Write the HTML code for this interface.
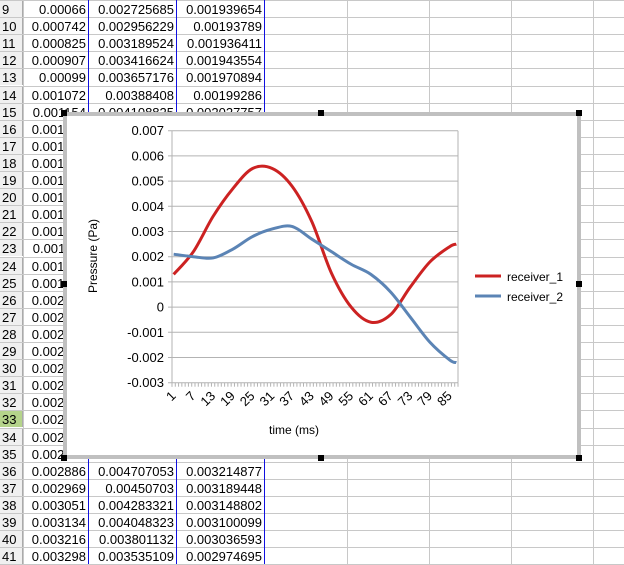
<!DOCTYPE html>
<html><head><meta charset="utf-8"><style>
body{margin:0;width:624px;height:564px;overflow:hidden;background:#fff;font-family:"Liberation Sans",sans-serif;position:relative}
.c{position:absolute;font-size:13px;text-align:right;white-space:nowrap;overflow:hidden;line-height:17px}
.rh{position:absolute;left:0;width:23px;background:#f0f0f0;font-size:13px;line-height:17px;padding-left:2px;box-sizing:border-box;border-right:1px solid #aaa}
.h{position:absolute;background:#000;width:6px;height:6px}
</style></head><body>
<div id="sheet"></div>
<div style="position:absolute;left:63px;top:112px;width:518px;height:347px;box-sizing:border-box;border:4px solid #c0c0c0;background:#fff"></div>
<div class="h" style="left:61px;top:110px"></div><div class="h" style="left:318px;top:110px"></div><div class="h" style="left:576px;top:110px"></div>
<div class="h" style="left:61px;top:281px"></div><div class="h" style="left:576px;top:281px"></div>
<div class="h" style="left:61px;top:455px"></div><div class="h" style="left:318px;top:455px"></div><div class="h" style="left:576px;top:455px"></div>
<svg id="chart" width="624" height="564" style="position:absolute;left:0;top:0" font-family="Liberation Sans, sans-serif"></svg>
<script>
const times=[];for(let i=1;i<=87;i++)times.push(i);
const sampleCats=[1,7,13,19,25,31,37,43,49,55,61,67,73,79,85,87];
const receiver1=[0.0013,0.0022,0.0036,0.0047,0.0055,0.0055,0.0048,0.0034,0.00135,0.0000,-0.0006,-0.0003,0.0008,0.0018,0.0024,0.0025];
const receiver2=[0.0021,0.0020,0.00195,0.0023,0.0028,0.0031,0.0032,0.0027,0.0022,0.0017,0.0013,0.0006,-0.0004,-0.0014,-0.0021,-0.0022];
const yTicks=[0.007,0.006,0.005,0.004,0.003,0.002,0.001,0,-0.001,-0.002,-0.003];
const yTickLabels=["0.007","0.006","0.005","0.004","0.003","0.002","0.001","0","-0.001","-0.002","-0.003"];
const xLabels=[1,7,13,19,25,31,37,43,49,55,61,67,73,79,85];
const colA9=["0.00066","0.000742","0.000825","0.000907","0.00099","0.001072","0.001154"];
const colB9=["0.002725685","0.002956229","0.003189524","0.003416624","0.003657176","0.00388408","0.004108825"];
const colC9=["0.001939654","0.00193789","0.001936411","0.001943554","0.001970894","0.00199286","0.002027757"];
const colA36=["0.002886","0.002969","0.003051","0.003134","0.003216","0.003298"];
const colB36=["0.004707053","0.00450703","0.004283321","0.004048323","0.003801132","0.003535109"];
const colC36=["0.003214877","0.003189448","0.003148802","0.003100099","0.003036593","0.002974695"];

const sh=document.getElementById('sheet');
const rowTop=n=>1+(n-9)*17.1;
const vlines=[23,88,176,264,347,429,511,593];
for(let n=9;n<=42;n++){
  const l=document.createElement('div');l.style.cssText=`position:absolute;left:0;top:${rowTop(n)-1}px;width:624px;height:1px;background:#c8c8c8`;
  
  sh.appendChild(l);
}
vlines.forEach((x,i)=>{const l=document.createElement('div');const blue=(i>=1&&i<=3);
  l.style.cssText=`position:absolute;left:${x}px;top:0;width:1px;height:564px;background:${blue?'#1010e0':'#c8c8c8'}`;
  
  sh.appendChild(l);});
for(let n=9;n<=41;n++){
  const h=document.createElement('div');h.className='rh';h.style.top=rowTop(n)+'px';h.style.height='16px';h.textContent=n;
  if(n===33){h.style.background='#b5d48b';}
  
  sh.appendChild(h);
  let a,b,c;
  if(n<=15){a=colA9[n-9];b=colB9[n-9];c=colC9[n-9];}
  else if(n>=36){a=colA36[n-36];b=colB36[n-36];c=colC36[n-36];}
  else {a=(0.00066+(n-9)*0.0000822).toFixed(6);}
  [[a,25,61],[b,90,84],[c,178,84]].forEach(([t,x,w])=>{if(!t)return;const d=document.createElement('div');d.className='c';
    d.style.cssText+=`left:${x}px;top:${rowTop(n)}px;width:${w}px`;d.textContent=t;
    
    sh.appendChild(d);});
}

const svg=document.getElementById('chart');const NS='http://www.w3.org/2000/svg';
const X0=172,X1=458,Y0=130.7,Y1=382.7,N=times.length;
const xs=c=>X0+(c-0.5)*(X1-X0)/N;
const ys=v=>Y1-(v+0.003)/0.010*(Y1-Y0);
function el(t,a,name){const e=document.createElementNS(NS,t);for(const k in a)e.setAttribute(k,a[k]);
  
  svg.appendChild(e);return e;}
yTicks.forEach((v,i)=>{el('line',{x1:X0-4,x2:X1,y1:ys(v),y2:ys(v),stroke:'#b3b3b3','stroke-width':1},'y-gridline');
  const t=el('text',{x:X0-8,y:ys(v)+4.5,'text-anchor':'end','font-size':13,fill:'#000'},'y-tick-label');t.textContent=yTickLabels[i];});
el('line',{x1:X0,x2:X0,y1:Y0,y2:Y1+4,stroke:'#b3b3b3'},'y-axis');
el('line',{x1:X1,x2:X1,y1:Y0,y2:Y1,stroke:'#b3b3b3'},'plot-right-edge');
for(let i=0;i<=N;i++){const x=X0+i*(X1-X0)/N;el('line',{x1:x,x2:x,y1:Y1,y2:Y1+4,stroke:'#b3b3b3'},'x-tick');}
xLabels.forEach(c=>{const x=xs(c),y=Y1+10;const t=el('text',{x:x+3,y:y+4,'text-anchor':'end','font-size':13,transform:`rotate(-45 ${x+3} ${y+4})`},'x-tick-label');t.textContent=c;});
function path(vals,color,name){const p=sampleCats.map((c,i)=>[xs(c),ys(vals[i])]);let d=`M${p[0][0]},${p[0][1]}`;
  for(let i=0;i<p.length-1;i++){const a=p[Math.max(0,i-1)],b=p[i],c=p[i+1],e=p[Math.min(p.length-1,i+2)];
    d+=` C${b[0]+(c[0]-a[0])/6},${b[1]+(c[1]-a[1])/6} ${c[0]-(e[0]-b[0])/6},${c[1]-(e[1]-b[1])/6} ${c[0]},${c[1]}`;}
  el('path',{d,fill:'none',stroke:color,'stroke-width':3,'stroke-linejoin':'round'},name);}
path(receiver1,'#cc2222','series-receiver-1');
path(receiver2,'#5b84b5','series-receiver-2');
let t=el('text',{x:294,y:434,'text-anchor':'middle','font-size':12},'x-axis-title');t.textContent='time (ms)';
t=el('text',{x:0,y:0,'text-anchor':'middle','font-size':12,transform:'translate(97 256) rotate(-90)'},'y-axis-title');t.textContent='Pressure (Pa)';
el('line',{x1:475,x2:501,y1:276,y2:276,stroke:'#cc2222','stroke-width':3},'legend-swatch-receiver-1');
t=el('text',{x:507,y:281,'font-size':12},'legend-label-receiver-1');t.textContent='receiver_1';
el('line',{x1:475,x2:501,y1:296,y2:296,stroke:'#5b84b5','stroke-width':3},'legend-swatch-receiver-2');
t=el('text',{x:507,y:301,'font-size':12},'legend-label-receiver-2');t.textContent='receiver_2';
</script>
</body></html>
